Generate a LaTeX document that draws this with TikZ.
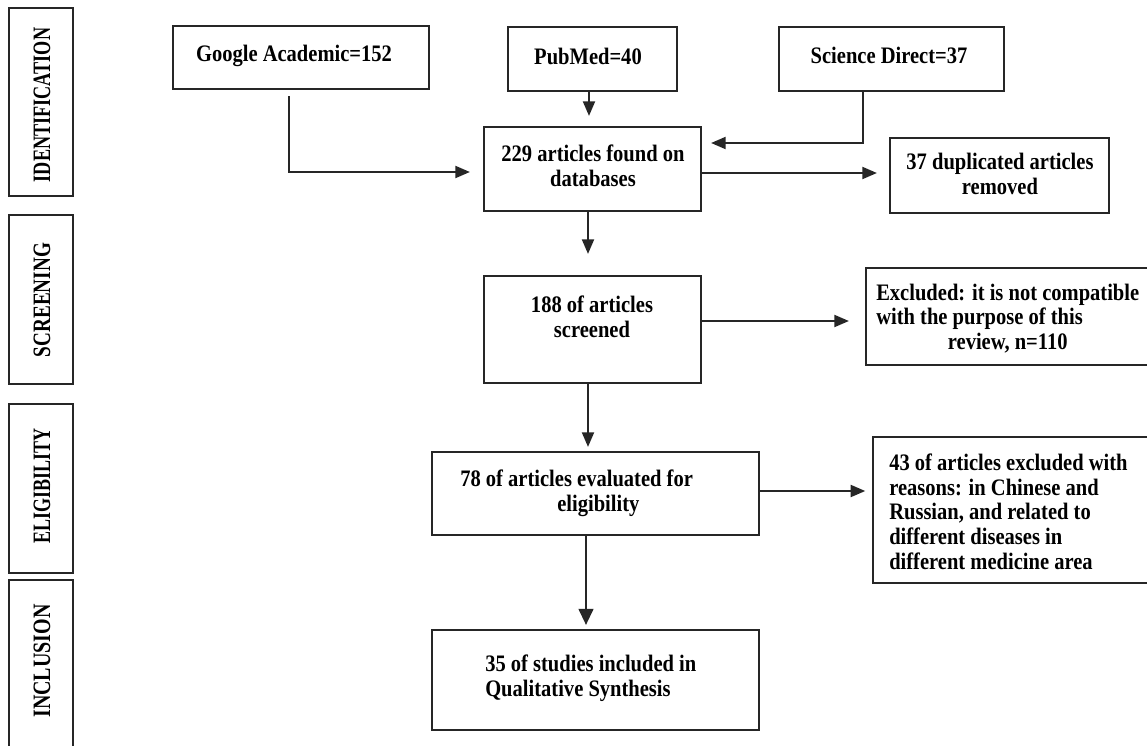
\documentclass[tikz,border=0pt]{standalone}
\usepackage{fontspec}
\setmainfont{Liberation Serif}
\usepackage{graphicx}
\usetikzlibrary{arrows.meta,calc}
\newcommand\TxC[1]{\scalebox{1}[1.15]{\begin{tabular}{@{}c@{}}#1\end{tabular}}}
\newcommand\TxL[1]{\scalebox{1}[1.15]{\begin{tabular}{@{}l@{}}#1\end{tabular}}}
\begin{document}
\begin{tikzpicture}[x=0.75pt,y=-0.75pt,
  box/.style={draw=black!85, line width=1.6pt, inner sep=0pt, rectangle},
  txt/.style={inner sep=0pt, font=\bfseries\fontsize{15.4pt}{16.1pt}\selectfont},
  lab/.style={inner sep=0pt, rotate=90, font=\bfseries\fontsize{15pt}{18pt}\selectfont},
  arr/.style={draw=black!85, line width=1.6pt, -{Triangle[length=11pt,width=9pt]}}]
\useasboundingbox (0,0) rectangle (1147,746);
\fill[white] (0,0) rectangle (1147,746);
\clip (0,0) rectangle (1147,746);

% phase labels
\node[box, minimum width=48pt, minimum height=141pt] (l1) at (41,102) {};
\node[box, minimum width=48pt, minimum height=126.75pt] (l2) at (41,299.5) {};
\node[box, minimum width=48pt, minimum height=126.75pt] (l3) at (41,488.5) {};
\node[box, minimum width=48pt, minimum height=135pt] (l4) at (41,670) {};
\node[lab] (l1t) at (42,105) {\scalebox{0.91}[1.25]{IDENTIFICATION}};
\node[lab] (l2t) at (42,300) {\scalebox{0.96}[1.25]{SCREENING}};
\node[lab] (l3t) at (42,486) {\scalebox{0.9}[1.25]{ELIGIBILITY}};
\node[lab] (l4t) at (42,661) {\scalebox{1.0}[1.25]{INCLUSION}};

% boxes
\node[box, minimum width=192pt, minimum height=47.25pt] (google) at (301,57.5) {};
\node[box, minimum width=126.75pt, minimum height=48pt] (pubmed) at (592.5,59) {};
\node[box, minimum width=168.75pt, minimum height=48pt] (sd) at (891.5,59) {};
\node[box, minimum width=162.75pt, minimum height=63pt] (s229) at (592.5,169) {};
\node[box, minimum width=164.25pt, minimum height=56.25pt] (dup) at (999.5,175.5) {};
\node[box, minimum width=162.75pt, minimum height=80.25pt] (s188) at (592.5,329.5) {};
\node[box, minimum width=220.5pt, minimum height=72.75pt] (excl) at (1013,316.5) {};
\node[box, minimum width=245.25pt, minimum height=62.25pt] (s78) at (595.5,493.5) {};
\node[box, minimum width=215.25pt, minimum height=109.5pt] (e43) at (1016.5,510) {};
\node[box, minimum width=245.25pt, minimum height=75pt] (s35) at (595.5,680) {};

% texts
\node[txt] (tg) at (294,57) {\TxC{Google Academic=152}};
\node[txt] (tp) at (588,60) {\TxC{PubMed=40}};
\node[txt] (ts) at (889,59) {\TxC{Science Direct=37}};
\node[txt] (t229) at (593,169) {\TxC{229 articles found on\\databases}};
\node[txt] (tdup) at (1000,177) {\TxC{37 duplicated articles\\removed}};
\node[txt] (t188) at (592,320) {\TxC{188 of articles\\screened}};
\node[txt, anchor=west] (texcl) at (876,320) {\TxL{Excluded: it is not compatible\\with the purpose of this\\\multicolumn{1}{@{}c@{}}{review, n=110}}};
\node[txt, anchor=west] (t78) at (460,494) {\TxL{78 of articles evaluated for\\\hspace*{72.75pt}eligibility}};
\node[txt, anchor=west] (t43) at (889,515) {\TxL{43 of articles excluded with\\reasons: in Chinese and\\Russian, and related to\\different diseases in\\different medicine area}};
\node[txt, anchor=west] (t35) at (485,679) {\TxL{35 of studies included in\\Qualitative Synthesis}};

% connectors
\coordinate (gA) at ($(google.south)+(-12,6)$);
\coordinate (gB) at ($(s229.west)+(-13,3)$);
\draw[arr] (gA) |- (gB);
\coordinate (pA) at ($(pubmed.south)+(-3.5,0)$);
\draw[arr, shorten >=7.5pt] (pA) -- (pA |- s229.north);
\coordinate (sA) at ($(sd.south)+(-28.5,0)$);
\coordinate (sB) at ($(s229.east)+(9,-26)$);
\draw[arr] (sA) |- (sB);
\coordinate (dA) at ($(s229.east)+(0,4)$);
\draw[arr, shorten >=9pt] (dA) -- (dA -| dup.west);
\coordinate (cA) at ($(s229.south)+(-4.5,0)$);
\draw[arr, shorten >=15.75pt] (cA) -- (cA |- s188.north);
\coordinate (eA) at ($(s188.east)+(0,-8.5)$);
\draw[arr, shorten >=12pt] (eA) -- (eA -| excl.west);
\coordinate (fA) at ($(s188.south)+(-4.5,0)$);
\draw[arr, shorten >=3pt] (fA) -- (fA |- s78.north);
\coordinate (hA) at ($(s78.east)+(0,-2.5)$);
\draw[arr, shorten >=5pt] (hA) -- (hA -| e43.west);
\coordinate (iA) at ($(s78.south)+(-9.5,0)$);
\draw[arr, shorten >=3pt, -{Triangle[length=12pt,width=11pt]}] (iA) -- (iA |- s35.north);
\end{tikzpicture}
\end{document}
